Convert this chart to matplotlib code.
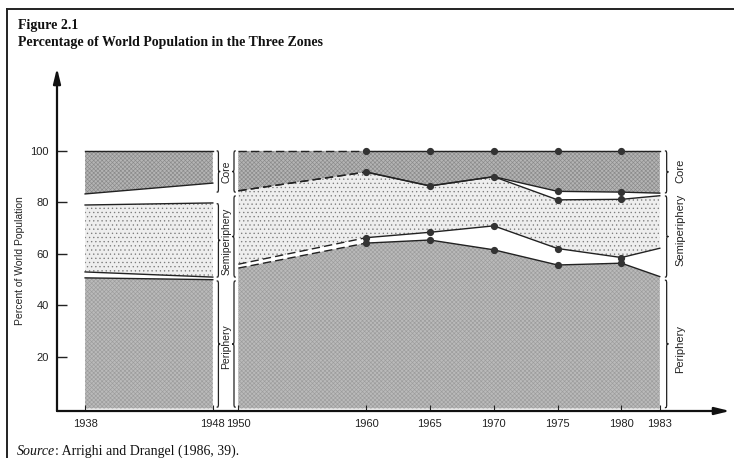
import matplotlib.pyplot as plt
from matplotlib.path import Path
from matplotlib.patches import PathPatch
from matplotlib.lines import Line2D

plt.rcParams['font.family'] = ['Liberation Sans', 'DejaVu Sans']
plt.rcParams['hatch.linewidth'] = 0.45

# ── DATA ──────────────────────────────────────────────
# 1938-1948 block
years_a = [1938, 1948]
core_lo_a = [83.3, 87.5]
semi_hi_a = [79.0, 79.8]
semi_lo_a = [53.0, 51.0]
peri_hi_a = [50.7, 50.0]

# 1950-1983 block
years_b = [1950, 1960, 1965, 1970, 1975, 1980, 1983]
core_hi_b = [100, 100, 100, 100, 100, 100, 100]
core_lo_b = [84.5, 91.8, 86.4, 90.0, 84.3, 84.0, 83.6]
semi_hi_b = [84.5, 91.8, 86.4, 90.0, 81.0, 81.2, 82.6]
semi_lo_b = [56.0, 66.3, 68.4, 70.9, 62.1, 58.6, 62.2]
peri_hi_b = [54.5, 64.2, 65.4, 61.6, 55.7, 56.4, 51.2]

xtick_years = [1938, 1948, 1950, 1960, 1965, 1970, 1975, 1980, 1983]
ytick_vals = [20, 40, 60, 80, 100]

# ── STYLES ────────────────────────────────────────────
CORE = dict(face="#b4b4b4", hatch="xxxxxxxx", hcol="#8a8a8a")
SEMI = dict(face="#eeeeee", hatch="....", hcol="#7c7c7c")
PERI = dict(face="#bababa", hatch="xxxxxxxx", hcol="#9c9c9c")


def band(ax, x, lo, hi, st):
    with plt.rc_context({"hatch.color": st["hcol"]}):
        ax.fill_between(x, lo, hi, facecolor=st["face"], hatch=st["hatch"],
                        linewidth=0, zorder=1)


def brace(ax, x, y0, y1, w, q=2.0):
    # vertical curly brace from y1 (top) down to y0, tip towards x + w
    ym = (y0 + y1) / 2
    h = x + w / 2
    verts = [(x, y1), (h, y1), (h, y1), (h, y1 - q),
             (h, ym + q),
             (h, ym), (h, ym), (x + w, ym),
             (h, ym), (h, ym), (h, ym - q),
             (h, y0 + q),
             (h, y0), (h, y0), (x, y0)]
    codes = [Path.MOVETO, Path.CURVE4, Path.CURVE4, Path.CURVE4,
             Path.LINETO,
             Path.CURVE4, Path.CURVE4, Path.CURVE4,
             Path.CURVE4, Path.CURVE4, Path.CURVE4,
             Path.LINETO,
             Path.CURVE4, Path.CURVE4, Path.CURVE4]
    ax.add_patch(PathPatch(Path(verts, codes), fill=False, lw=0.9,
                           edgecolor="#222", clip_on=False, zorder=3))


fig = plt.figure(figsize=(7.34, 4.58), dpi=100)
ax = fig.add_axes([57 / 734, 1 - 411 / 458, 673 / 734, 343 / 458])
ax.set_xlim(1935.8, 1988.5)
ax.set_ylim(-1, 132.2)

# bands
band(ax, years_a, [0, 0], peri_hi_a, PERI)
band(ax, years_a, semi_lo_a, semi_hi_a, SEMI)
band(ax, years_a, core_lo_a, [100, 100], CORE)
band(ax, years_b, [0] * len(years_b), peri_hi_b, PERI)
band(ax, years_b, semi_lo_b, semi_hi_b, SEMI)
band(ax, years_b, core_lo_b, core_hi_b, CORE)

# boundary lines
for s in [core_lo_a, semi_hi_a, semi_lo_a, peri_hi_a]:
    ax.plot(years_a, s, color="#222", lw=1.0, zorder=2)
ax.plot(years_a, [100, 100], color="#222", lw=1.0, zorder=2)

for s in [core_hi_b, core_lo_b, semi_hi_b, semi_lo_b, peri_hi_b]:
    ax.plot(years_b[:2], s[:2], color="#222", lw=1.0, ls=(0, (6, 3)), zorder=2)
    ax.plot(years_b[1:], s[1:], color="#222", lw=1.0, zorder=2)

# markers
mk = dict(ls="none", marker="o", ms=4.2, color="#333", zorder=4)
ax.plot(years_b[1:6], core_hi_b[1:6], **mk)
ax.plot(years_b[1:6], core_lo_b[1:6], **mk)
ax.plot(years_b[4:6], semi_hi_b[4:6], **mk)
ax.plot(years_b[1:6], semi_lo_b[1:6], **mk)
ax.plot(years_b[1:6], peri_hi_b[1:6], **mk)

# braces and zone labels
bw = 0.28
brace(ax, 1948.3, 84, 100, bw)
brace(ax, 1948.3, 51, 79.5, bw)
brace(ax, 1948.3, 0.5, 49.5, bw)
brace(ax, 1949.8, 84, 100, -bw)
brace(ax, 1949.8, 51, 82.5, -bw)
brace(ax, 1949.8, 0.5, 49.5, -bw)
brace(ax, 1983.4, 83.7, 100, bw)
brace(ax, 1983.4, 51, 82.5, bw)
brace(ax, 1983.4, 0.3, 49.8, bw)

mid = dict(rotation=90, ha="center", va="center", fontsize=7.5, color="#222")
ax.text(1949.05, 91.8, "Core", **mid)
ax.text(1949.05, 65.0, "Semiperiphery", **mid)
ax.text(1949.05, 24.0, "Periphery", **mid)
side = dict(rotation=90, ha="center", va="center", fontsize=8, color="#222")
ax.text(1984.6, 92.2, "Core", **side)
ax.text(1984.6, 69.3, "Semiperiphery", **side)
ax.text(1984.6, 23.1, "Periphery", **side)

# axes with arrows
for s in ax.spines.values():
    s.set_visible(False)
arr = dict(arrowstyle="-|>,head_length=0.9,head_width=0.22", lw=1.6,
           color="#111", shrinkA=0, shrinkB=0)
ax.annotate("", xy=(0, 1), xytext=(0, 0), xycoords="axes fraction",
            arrowprops=arr, annotation_clip=False)
ax.annotate("", xy=(1, 0), xytext=(0, 0), xycoords="axes fraction",
            arrowprops=arr, annotation_clip=False)

ax.set_yticks(ytick_vals)
ax.set_yticklabels([str(v) for v in ytick_vals])
ax.set_xticks(xtick_years)
ax.set_xticklabels([str(v) for v in xtick_years])
ax.tick_params(axis="y", direction="in", length=7, width=1.0, pad=6,
               labelsize=8, colors="#222")
ax.tick_params(axis="x", direction="in", length=4, width=0.8, pad=6,
               labelsize=8, colors="#222")

fig.text(20 / 734, 1 - 261 / 458, "Percent of World Population", rotation=90,
         ha="center", va="center", fontsize=7.5, color="#222")

# titles and source (serif, as in the book page)
fig.text(18 / 734, 1 - 29 / 458, "Figure 2.1", family="Liberation Serif",
         fontweight="bold", fontsize=10, color="#111")
fig.text(18 / 734, 1 - 46 / 458, "Percentage of World Population in the Three Zones",
         family="Liberation Serif", fontweight="bold", fontsize=10, color="#111")
t1 = fig.text(17 / 734, 1 - 455 / 458, "Source", family="Liberation Serif",
              style="italic", fontsize=10, color="#111")
r = fig.canvas.get_renderer()
bb = t1.get_window_extent(renderer=r)
fig.text(bb.x1 / 734, 1 - 455 / 458, ": Arrighi and Drangel (1986, 39).",
         family="Liberation Serif", fontsize=10, color="#111")

# page frame
fig.add_artist(Line2D([7 / 734, 7 / 734], [0, 1 - 9 / 458], color="#222", lw=1.4))
fig.add_artist(Line2D([7 / 734, 1], [1 - 9 / 458, 1 - 9 / 458], color="#222", lw=1.4))

fig.savefig("out.png", dpi=100)
